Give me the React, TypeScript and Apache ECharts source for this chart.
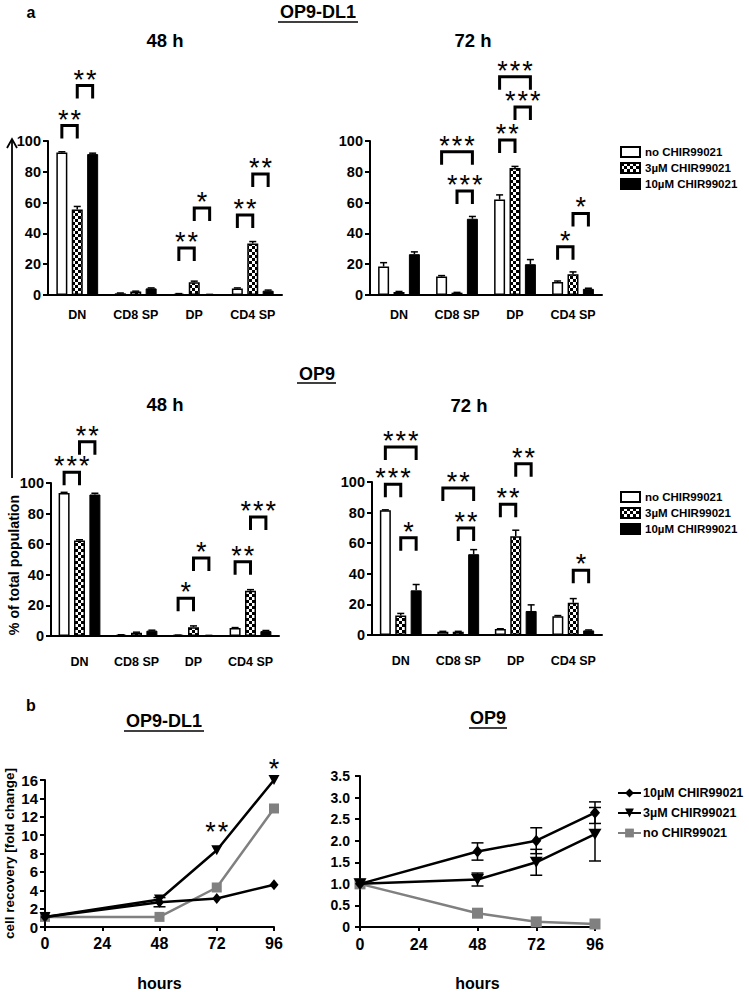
import React, { useEffect, useRef } from 'react';
import * as echarts from 'echarts';

const FONT = '"Liberation Sans", Arial, Helvetica, sans-serif';

// ---------- data: part a (bar panels) ----------
const categories = ['DN', 'CD8 SP', 'DP', 'CD4 SP'];
const treatments = ['no CHIR99021', '3µM CHIR99021', '10µM CHIR99021'];

// OP9-DL1, 48 h
const dl1h48No = [92.5, 1.1, 0.7, 4.3];
const dl1h48Chir3 = [55.5, 2.2, 8.2, 33.5];
const dl1h48Chir10 = [91.5, 4.3, 0.3, 2.8];
const dl1h48NoErr = [0.5, 0.2, 0.2, 0.3];
const dl1h48Chir3Err = [2, 0.3, 0.8, 1.2];
const dl1h48Chir10Err = [0.6, 0.3, 0.1, 0.4];
// [category, bracket top value, from bar, to bar, stars]
const dl1h48Brackets: any[] = [
  [0, 110, 0, 1, '**'], [0, 136, 1, 2, '**'],
  [2, 30.5, 0, 1, '**'], [2, 56.5, 1, 2, '*'],
  [3, 52, 0, 1, '**'], [3, 78.6, 1, 2, '**'],
];

// OP9-DL1, 72 h
const dl1h72No = [18.5, 12, 62, 8.5];
const dl1h72Chir3 = [2, 1.5, 82.5, 13.5];
const dl1h72Chir10 = [26.5, 49.5, 20, 4];
const dl1h72NoErr = [2.5, 0.6, 3, 0.6];
const dl1h72Chir3Err = [0.3, 0.2, 1, 1.5];
const dl1h72Chir10Err = [1.5, 1.5, 3, 0.4];
const dl1h72Brackets: any[] = [
  [1, 93, 0, 2, '***'], [1, 67.5, 1, 2, '***'],
  [2, 100.6, 0, 1, '**'], [2, 141.8, 0, 2, '***'], [2, 122, 1, 2, '***'],
  [3, 31.4, 0, 1, '*'], [3, 53, 1, 2, '*'],
];

// OP9, 48 h
const op9h48No = [93.5, 0.7, 0.5, 5.2];
const op9h48Chir3 = [62.5, 2.2, 5.8, 29.5];
const op9h48Chir10 = [92.5, 3.5, 0.3, 3.2];
const op9h48NoErr = [0.4, 0.1, 0.1, 0.3];
const op9h48Chir3Err = [0.4, 0.3, 0.8, 0.8];
const op9h48Chir10Err = [0.8, 0.3, 0.1, 0.4];
const op9h48Brackets: any[] = [
  [0, 107, 0, 1, '***'], [0, 127, 1, 2, '**'],
  [2, 24.6, 0, 1, '*'], [2, 51, 1, 2, '*'],
  [3, 48.6, 0, 1, '**'], [3, 77.8, 1, 2, '***'],
];

// OP9, 72 h
const op9h72No = [81.5, 2.2, 3.9, 12.2];
const op9h72Chir3 = [12.8, 2.2, 64.5, 21];
const op9h72Chir10 = [29.2, 52.8, 15.7, 3];
const op9h72NoErr = [0.3, 0.2, 0.2, 0.5];
const op9h72Chir3Err = [1.3, 0.2, 4, 2.8];
const op9h72Chir10Err = [3.8, 3, 4, 0.3];
const op9h72Brackets: any[] = [
  [0, 98.5, 0, 1, '***'], [0, 122.8, 0, 2, '***'], [0, 63.5, 1, 2, '*'],
  [1, 96, 0, 2, '**'], [1, 70, 1, 2, '**'],
  [2, 85.5, 0, 1, '**'], [2, 112, 1, 2, '**'],
  [3, 42.4, 1, 2, '*'],
];

const barTicks = [0, 20, 40, 60, 80, 100];

// ---------- data: part b (line panels) ----------
const hours = [0, 48, 72, 96];
const hourTicks = [0, 24, 48, 72, 96];
const lineNames = ['10µM CHIR99021', '3µM CHIR99021', 'no CHIR99021'];

// OP9-DL1
const dl1Chir10 = [1.1, 2.7, 3.1, 4.6];
const dl1Chir3 = [1.1, 3.0, 8.35, 16.0];
const dl1No = [1.1, 1.1, 4.3, 12.9];
const dl1Chir10Err = [0, 0.5, 0, 0];
const dl1Chir3Err = [0, 0, 0, 0];
const dl1NoErr = [0, 0, 0, 0];
const dl1Sig = [[72, 11.0], [96, 17.8]];
const dl1SigLabels = ['**', '*'];

// OP9
const op9Chir10 = [1.0, 1.75, 2.0, 2.65];
const op9Chir3 = [1.0, 1.1, 1.5, 2.15];
const op9No = [1.0, 0.32, 0.12, 0.07];
const op9Chir10Err = [0, 0.2, 0.3, 0.25];
const op9Chir3Err = [0, 0.15, 0.3, 0.62];
const op9NoErr = [0, 0, 0, 0];

// ---------- styles ----------
const BAR_W = 11;
const BAR_GAP = 0.4;
const OFF = BAR_W * (1 + BAR_GAP);
const LEG = 13;
const STAR_SIZE = 27;
const STAR_STEP = 12.5;

// one text element per asterisk, centred on (cx, cy = glyph centre)
function starTexts(label: string, cx: number, cy: number) {
  const n = label.length;
  const out: any[] = [];
  for (let i = 0; i < n; i++) {
    out.push({
      type: 'text',
      style: {
        text: '*',
        x: cx + (i - (n - 1) / 2) * STAR_STEP,
        y: cy + 0.22 * STAR_SIZE,
        align: 'center',
        verticalAlign: 'middle',
        fontFamily: FONT,
        fontSize: STAR_SIZE,
        fill: '#000',
      },
    });
  }
  return out;
}

function makeChecker() {
  const c = document.createElement('canvas');
  c.width = 6;
  c.height = 6;
  const ctx = c.getContext('2d') as CanvasRenderingContext2D;
  ctx.fillStyle = '#ffffff';
  ctx.fillRect(0, 0, 6, 6);
  ctx.fillStyle = '#000000';
  ctx.fillRect(0, 0, 3, 3);
  ctx.fillRect(3, 3, 3, 3);
  return c;
}

function text(t: string, x: number, y: number, size: number, extra: any = {}) {
  return {
    type: 'text',
    x,
    y,
    ...extra,
    style: {
      text: t,
      x: 0,
      y: 0,
      align: 'center',
      verticalAlign: 'middle',
      fontFamily: FONT,
      fontWeight: 'bold',
      fontSize: size,
      fill: '#000',
    },
  };
}

function hline(x1: number, x2: number, y: number, w = 1.6) {
  return { type: 'line', shape: { x1, y1: y, x2, y2: y }, style: { stroke: '#000', lineWidth: w } };
}

function buildBarOption(): any {
  const checker = makeChecker();
  const pattern: any = { image: checker, repeat: 'repeat', imageWidth: 6, imageHeight: 6 };
  const barStyles = [
    { color: '#ffffff', borderColor: '#000', borderWidth: 1.5 },
    { color: pattern, borderColor: '#000', borderWidth: 1.5 },
    { color: '#000000', borderColor: '#000', borderWidth: 1 },
  ];

  const panels = [
    { grid: { left: 48, top: 141, width: 234, height: 154 }, margin: 13,
      values: [dl1h48No, dl1h48Chir3, dl1h48Chir10], errors: [dl1h48NoErr, dl1h48Chir3Err, dl1h48Chir10Err], brackets: dl1h48Brackets },
    { grid: { left: 370, top: 141, width: 232, height: 154 }, margin: 13,
      values: [dl1h72No, dl1h72Chir3, dl1h72Chir10], errors: [dl1h72NoErr, dl1h72Chir3Err, dl1h72Chir10Err], brackets: dl1h72Brackets },
    { grid: { left: 51, top: 483, width: 228, height: 153 }, margin: 19,
      values: [op9h48No, op9h48Chir3, op9h48Chir10], errors: [op9h48NoErr, op9h48Chir3Err, op9h48Chir10Err], brackets: op9h48Brackets },
    { grid: { left: 372, top: 482, width: 230, height: 153 }, margin: 19,
      values: [op9h72No, op9h72Chir3, op9h72Chir10], errors: [op9h72NoErr, op9h72Chir3Err, op9h72Chir10Err], brackets: op9h72Brackets },
  ];

  const series: any[] = [];
  panels.forEach((p, gi) => {
    p.values.forEach((vals, k) => {
      series.push({
        type: 'bar',
        name: treatments[k],
        xAxisIndex: gi,
        yAxisIndex: gi,
        data: vals,
        barWidth: BAR_W,
        barGap: BAR_GAP * 100 + '%',
        itemStyle: barStyles[k],
        silent: true,
      });
    });
    p.errors.forEach((errs, k) => {
      series.push({
        type: 'custom',
        xAxisIndex: gi,
        yAxisIndex: gi,
        clip: false,
        silent: true,
        z: 4,
        data: errs.map((e, i) => [i, p.values[k][i], e]),
        renderItem: (params: any, api: any) => {
          const base = api.coord([api.value(0), api.value(1)]);
          const top = api.coord([api.value(0), api.value(1) + api.value(2)]);
          const x = base[0] + (k - 1) * OFF;
          return {
            type: 'group',
            children: [
              { type: 'line', shape: { x1: x, y1: base[1], x2: x, y2: top[1] }, style: { stroke: '#000', lineWidth: 1.5 } },
              { type: 'line', shape: { x1: x - 3.5, y1: top[1], x2: x + 3.5, y2: top[1] }, style: { stroke: '#000', lineWidth: 1.5 } },
            ],
          };
        },
      });
    });
    const list = p.brackets;
    series.push({
      type: 'custom',
      xAxisIndex: gi,
      yAxisIndex: gi,
      clip: false,
      silent: true,
      z: 5,
      data: list.map((b: any[]) => [b[0], b[1], b[2], b[3]]),
      renderItem: (params: any, api: any) => {
        const pt = api.coord([api.value(0), api.value(1)]);
        const x1 = pt[0] + (api.value(2) - 1) * OFF;
        const x2 = pt[0] + (api.value(3) - 1) * OFF;
        const y = pt[1];
        return {
          type: 'group',
          children: [
            { type: 'polyline', shape: { points: [[x1, y + LEG], [x1, y], [x2, y], [x2, y + LEG]] },
              style: { stroke: '#000', lineWidth: 3, fill: null } },
            ...starTexts(list[params.dataIndex][4], (x1 + x2) / 2, y - 12),
          ],
        };
      },
    });
  });

  const legendBase = {
    orient: 'vertical',
    data: treatments,
    itemWidth: 19,
    itemHeight: 10,
    itemGap: 2,
    icon: 'rect',
    selectedMode: false,
    textStyle: { fontFamily: FONT, fontWeight: 'bold', fontSize: 11.5, color: '#000', lineHeight: 14 },
  };

  return {
    animation: false,
    grid: panels.map((p) => ({ ...p.grid, containLabel: false })),
    xAxis: panels.map((p, gi) => ({
      type: 'category',
      gridIndex: gi,
      data: categories,
      axisLine: { lineStyle: { color: '#000', width: 2 } },
      axisTick: { alignWithLabel: true, length: 5, lineStyle: { color: '#000', width: 2 } },
      axisLabel: { color: '#000', fontFamily: FONT, fontWeight: 'bold', fontSize: 12.5, margin: p.margin, interval: 0 },
    })),
    yAxis: panels.map((p, gi) => ({
      type: 'value',
      gridIndex: gi,
      min: barTicks[0],
      max: barTicks[barTicks.length - 1],
      interval: barTicks[1] - barTicks[0],
      splitLine: { show: false },
      axisLine: { show: true, lineStyle: { color: '#000', width: 2 } },
      axisTick: { show: true, length: 5, lineStyle: { color: '#000', width: 2 } },
      axisLabel: { color: '#000', fontFamily: FONT, fontWeight: 'bold', fontSize: 14.5, margin: 7 },
    })),
    legend: [
      { ...legendBase, left: 615, top: 140 },
      { ...legendBase, left: 615, top: 485 },
    ],
    series,
    graphic: [
      text('a', 31, 12, 16),
      text('OP9-DL1', 318, 12, 18),
      hline(278, 358, 22),
      text('48 h', 165, 40, 18.5),
      text('72 h', 473, 40, 18.5),
      text('OP9', 317, 374, 18),
      hline(297, 336, 383),
      text('48 h', 165, 404, 18.5),
      text('72 h', 469, 405, 18.5),
      { type: 'line', shape: { x1: 12, y1: 478, x2: 12, y2: 139 }, style: { stroke: '#000', lineWidth: 1.8 } },
      { type: 'polyline', shape: { points: [[7, 148], [12, 139], [17, 148]] }, style: { stroke: '#000', lineWidth: 1.8, fill: null } },
      text('% of total population', 14, 565, 14.2, { rotation: Math.PI / 2 }),
    ],
  };
}

function buildLineOption(): any {
  const grey = '#808080';
  const panels = [
    {
      grid: { left: 45, top: 780, width: 229, height: 153 },
      y: { min: 0, max: 16, interval: 2, fmt: (v: number) => String(v), size: 15, margin: 7 },
      xMargin: 8,
      vals: [dl1Chir10, dl1Chir3, dl1No],
      errs: [dl1Chir10Err, dl1Chir3Err, dl1NoErr],
      sizes: [[9, 11], [11, 10], 10],
    },
    {
      grid: { left: 360, top: 776, width: 235, height: 158 },
      y: { min: 0, max: 3.5, interval: 0.5, fmt: (v: number) => (v === 0 ? '0' : v.toFixed(1)), size: 14, margin: 10 },
      xMargin: 9,
      vals: [op9Chir10, op9Chir3, op9No],
      errs: [op9Chir10Err, op9Chir3Err, op9NoErr],
      sizes: [[10, 12], [13, 11], 11],
    },
  ];
  const symbols = ['diamond', 'triangle', 'rect'];
  const rotates = [0, 180, 0];
  const colors = ['#000', '#000', grey];

  const series: any[] = [];
  panels.forEach((p, gi) => {
    p.vals.forEach((vals, k) => {
      series.push({
        type: 'line',
        name: lineNames[k],
        xAxisIndex: gi,
        yAxisIndex: gi,
        data: hours.map((h, i) => [h, vals[i]]),
        symbol: symbols[k],
        symbolRotate: rotates[k],
        symbolSize: p.sizes[k],
        showAllSymbol: true,
        lineStyle: { color: colors[k], width: 2.5 },
        itemStyle: { color: colors[k], borderWidth: 0 },
        z: 3 - k + 2,
        silent: true,
      });
      series.push({
        type: 'custom',
        xAxisIndex: gi,
        yAxisIndex: gi,
        clip: false,
        silent: true,
        z: 6,
        data: hours.map((h, i) => [h, vals[i], p.errs[k][i]]).filter((d) => d[2] > 0),
        renderItem: (params: any, api: any) => {
          const hi = api.coord([api.value(0), api.value(1) + api.value(2)]);
          const lo = api.coord([api.value(0), api.value(1) - api.value(2)]);
          const x = hi[0];
          const st = { stroke: colors[k], lineWidth: 1.5 };
          return {
            type: 'group',
            children: [
              { type: 'line', shape: { x1: x, y1: hi[1], x2: x, y2: lo[1] }, style: st },
              { type: 'line', shape: { x1: x - 6, y1: hi[1], x2: x + 6, y2: hi[1] }, style: st },
              { type: 'line', shape: { x1: x - 6, y1: lo[1], x2: x + 6, y2: lo[1] }, style: st },
            ],
          };
        },
      });
    });
  });
  series.push({
    type: 'custom',
    xAxisIndex: 0,
    yAxisIndex: 0,
    clip: false,
    silent: true,
    z: 7,
    data: dl1Sig,
    renderItem: (params: any, api: any) => {
      const pt = api.coord([api.value(0), api.value(1)]);
      return { type: 'group', children: starTexts(dl1SigLabels[params.dataIndex], pt[0], pt[1]) };
    },
  });

  const lbl = { color: '#000', fontFamily: FONT, fontWeight: 'bold' };
  return {
    animation: false,
    grid: panels.map((p) => p.grid),
    xAxis: panels.map((p, gi) => ({
      type: 'value',
      gridIndex: gi,
      min: hourTicks[0],
      max: hourTicks[hourTicks.length - 1],
      interval: hourTicks[1] - hourTicks[0],
      name: 'hours',
      nameLocation: 'middle',
      nameGap: 48,
      nameTextStyle: { ...lbl, fontSize: 16 },
      splitLine: { show: false },
      axisLine: { lineStyle: { color: '#000', width: 2 } },
      axisTick: { show: true, length: 4, lineStyle: { color: '#000', width: 2 } },
      axisLabel: { ...lbl, fontSize: 16, margin: p.xMargin },
    })),
    yAxis: panels.map((p, gi) => ({
      type: 'value',
      gridIndex: gi,
      min: p.y.min,
      max: p.y.max,
      interval: p.y.interval,
      name: gi === 0 ? 'cell recovery [fold change]' : '',
      nameLocation: 'middle',
      nameGap: 29,
      nameTextStyle: { ...lbl, fontSize: 13.5 },
      splitLine: { show: false },
      axisLine: { show: true, lineStyle: { color: '#000', width: 2 } },
      axisTick: { show: true, length: 5, lineStyle: { color: '#000', width: 2 } },
      axisLabel: { ...lbl, fontSize: p.y.size, margin: p.y.margin, formatter: p.y.fmt },
    })),
    legend: {
      orient: 'vertical',
      left: 612,
      top: 781,
      data: lineNames,
      itemWidth: 23,
      itemHeight: 11,
      itemGap: 6,
      selectedMode: false,
      textStyle: { ...lbl, fontSize: 12.5, lineHeight: 14, padding: [0, 0, 0, -3] },
    },
    series,
    graphic: [
      text('b', 31, 705, 16),
      text('OP9-DL1', 164, 721, 18),
      hline(124, 204, 731),
      text('OP9', 488, 718, 18),
      hline(469, 507, 728),
    ],
  };
}

export default function App() {
  const refA = useRef<HTMLDivElement>(null);
  const refB = useRef<HTMLDivElement>(null);
  useEffect(() => {
    const chartA = echarts.init(refA.current as HTMLDivElement, null, { renderer: 'svg' });
    chartA.setOption(buildBarOption());
    const chartB = echarts.init(refB.current as HTMLDivElement, null, { renderer: 'svg' });
    chartB.setOption(buildLineOption());
    return () => {
      chartA.dispose();
      chartB.dispose();
    };
  }, []);
  return (
    <div style={{ position: 'absolute', left: 0, top: 0, width: 749, height: 992, background: '#fff' }}>
      <div ref={refA} style={{ position: 'absolute', left: 0, top: 0, width: 749, height: 992 }} />
      <div ref={refB} style={{ position: 'absolute', left: 0, top: 0, width: 749, height: 992 }} />
    </div>
  );
}
